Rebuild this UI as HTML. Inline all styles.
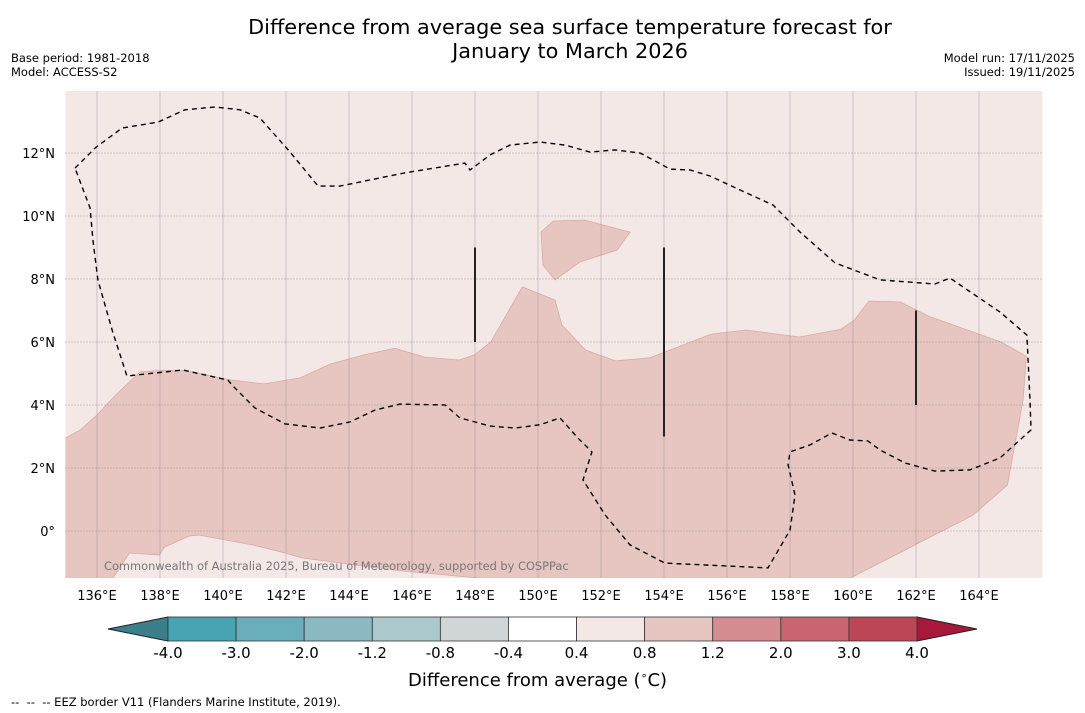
<!DOCTYPE html>
<html><head><meta charset="utf-8"><style>
body{margin:0;background:#fff;font-family:"DejaVu Sans","Liberation Sans",sans-serif;}
#wrap{position:relative;width:1085px;height:713px;overflow:hidden;}
.t{position:absolute;white-space:nowrap;color:#000;}
</style></head><body>
<div id="wrap">
<div class="t" style="left:0;width:1140px;text-align:center;top:15px;font-size:20.8px;line-height:24px;">Difference from average sea surface temperature forecast for<br>January to March 2026</div>
<div class="t" style="left:11px;top:51px;font-size:11.5px;line-height:14px;">Base period: 1981-2018<br>Model: ACCESS-S2</div>
<div class="t" style="right:10px;top:51px;font-size:11.5px;line-height:14px;text-align:right;">Model run: 17/11/2025<br>Issued: 19/11/2025</div>
<svg id="map" width="1085" height="713" style="position:absolute;left:0;top:0"></svg>
<div class="t" style="left:408px;top:669px;font-size:18px;">Difference from average (<sup style="font-size:11px">∘</sup>C)</div>
<div class="t" style="left:11px;top:695px;font-size:11.5px;">-- &nbsp;-- &nbsp;-- EEZ border V11 (Flanders Marine Institute, 2019).</div>
</div>
<script>
const lonTicks=[136,138,140,142,144,146,148,150,152,154,156,158,160,162,164];
const latTicks=[0,2,4,6,8,10,12];
const warmLon=[135,135.46,136,136.57,137.37,138,138.8,140.2,141.3,142.45,143.4,144.5,145.46,146.4,147.5,148,148.5,149.5,150.54,150.76,151.5,152.45,153.55,154.2,155.5,156.6,158.3,159.6,160.05,160.5,161.5,162.45,164.7,165.5,165.4,164.9,163.8,159.9,148.2,145.5,142.5,141.97,140.93,139.25,138.93,138.14,137.98,137.03,136.5,135];
const warmLat=[2.95,3.2,3.68,4.3,5.05,5.1,5.1,4.8,4.67,4.86,5.3,5.6,5.8,5.52,5.43,5.6,6,7.75,7.33,6.54,5.75,5.4,5.5,5.75,6.25,6.38,6.16,6.4,6.7,7.3,7.27,6.8,6,5.55,4.16,1.46,0.5,-1.5,-1.5,-1.25,-0.85,-0.7,-0.44,-0.13,-0.16,-0.51,-0.76,-0.7,-1.5,-1.5];
const patchLon=[150.1,150.48,151.49,152.92,152.51,151.33,150.54,150.16];
const patchLat=[9.49,9.84,9.87,9.49,8.92,8.54,7.97,8.44];
const eezLon=[135.3,135.94,136.79,137.94,138.79,139.75,140.54,141.17,142.13,143.02,143.71,145.78,147.68,147.84,148.48,149.11,150.06,150.86,151.65,152.44,153.24,154.19,154.83,155.46,156.41,157.46,158.32,159.43,160.86,162.6,163.08,164.67,165.52,165.62,165.65,164.67,163.71,162.6,161.65,160.86,160.47,159.9,159.33,158.63,158.0,157.94,158.16,158.0,157.3,154.03,152.92,152.13,151.43,151.71,151.27,150.7,150.06,149.27,148.48,147.52,147.05,145.62,144.83,144.03,143.08,141.97,141.02,140.29,140.16,138.73,136.95,136.48,136.03,135.87,135.78,135.3];
const eezLat=[11.52,12.16,12.79,12.98,13.37,13.46,13.37,13.11,12.03,10.95,10.95,11.37,11.68,11.46,11.94,12.25,12.35,12.25,12.03,12.1,12.0,11.49,11.46,11.27,10.83,10.35,9.49,8.51,7.97,7.84,8.03,6.95,6.22,4.16,3.21,2.32,1.94,1.9,2.16,2.57,2.86,2.89,3.11,2.73,2.51,2.1,1.14,0.03,-1.17,-1.02,-0.44,0.51,1.62,2.51,2.95,3.59,3.37,3.27,3.33,3.59,4.0,4.03,3.84,3.46,3.27,3.4,3.9,4.63,4.79,5.11,4.92,6.38,7.97,9.24,10.25,11.52];
const barLon=[148,154,162];
const barTop=[9,9,7];
const barBot=[6,3,4];
const cbLevels=["-4.0","-3.0","-2.0","-1.2","-0.8","-0.4","0.4","0.8","1.2","2.0","3.0","4.0"];
const cbColors=["#48a3b3","#6aaebb","#8ab9c3","#abc9cd","#d0d6d8","#ffffff","#f4e8e7","#e7c5c1","#d58d93","#c96570","#bd4656"];

const X0=65.5,Y0=91,W=977,H=487;
const px=lon=>X0+(lon-135)*31.5;
const py=lat=>531-lat*31.5;
const svg=document.getElementById('map');
const NS='http://www.w3.org/2000/svg';
function mk(tag,at){const e=document.createElementNS(NS,tag);for(const k in at)e.setAttribute(k,at[k]);svg.appendChild(e);return e;}
const clip=mk('clipPath',{id:'cp'});
const cr=document.createElementNS(NS,'rect');cr.setAttribute('x',X0);cr.setAttribute('y',Y0);cr.setAttribute('width',W);cr.setAttribute('height',H);clip.appendChild(cr);
let e=mk('rect',{x:X0,y:Y0,width:W,height:H,fill:'#f4e8e7'});


function pts(lo,la){return lo.map((v,i)=>px(v).toFixed(1)+','+py(la[i]).toFixed(1)).join(' ');}
e=mk('polygon',{points:pts(warmLon,warmLat),fill:'#e7c6c1',stroke:'#d9aaa6','stroke-width':0.8,'clip-path':'url(#cp)'});


e=mk('polygon',{points:pts(patchLon,patchLat),fill:'#e7c6c1',stroke:'#d9aaa6','stroke-width':0.8});


lonTicks.forEach(l=>{
 e=mk('line',{x1:px(l),x2:px(l),y1:Y0,y2:Y0+H,stroke:'#a09898','stroke-width':0.6,opacity:0.8});
 
 
 e=mk('text',{x:px(l),y:600,'font-size':13,'text-anchor':'middle','font-family':'DejaVu Sans, Liberation Sans, sans-serif'});
 e.textContent=l+'°E';
 
 
});
latTicks.forEach(l=>{
 e=mk('line',{x1:X0,x2:X0+W,y1:py(l),y2:py(l),stroke:'#888','stroke-width':0.8,'stroke-dasharray':'1,2'});
 
 
 e=mk('text',{x:55,y:py(l)+5,'font-size':13,'text-anchor':'end','font-family':'DejaVu Sans, Liberation Sans, sans-serif'});
 e.textContent=l===0?'0°':l+'°N';
 
 
});
e=mk('polyline',{points:pts(eezLon,eezLat),fill:'none',stroke:'#000','stroke-width':1.4,'stroke-dasharray':'5,4'});


barLon.forEach((l,i)=>{
 e=mk('line',{x1:px(l),x2:px(l),y1:py(barTop[i]),y2:py(barBot[i]),stroke:'#222','stroke-width':2});
 
 
});
e=mk('text',{x:104,y:570,'font-size':11.4,fill:'#777','font-family':'DejaVu Sans, Liberation Sans, sans-serif'});
e.textContent='Commonwealth of Australia 2025, Bureau of Meteorology, supported by COSPPac';


const cbX=168,cbW=749,cbY=617,cbH=24,n=cbColors.length,bw=cbW/n;
e=mk('polygon',{points:`108,${cbY+cbH/2} ${cbX},${cbY} ${cbX},${cbY+cbH}`,fill:'#3a7f89',stroke:'#222','stroke-width':1});


e=mk('polygon',{points:`977,${cbY+cbH/2} ${cbX+cbW},${cbY} ${cbX+cbW},${cbY+cbH}`,fill:'#a8183a',stroke:'#222','stroke-width':1});


cbColors.forEach((c,i)=>{
 e=mk('rect',{x:cbX+i*bw,y:cbY,width:bw,height:cbH,fill:c,stroke:'#333','stroke-width':0.8});
 
 
});
cbLevels.forEach((t,i)=>{
 e=mk('text',{x:cbX+i*bw,y:658,'font-size':15,'text-anchor':'middle','font-family':'DejaVu Sans, Liberation Sans, sans-serif'});
 e.textContent=t;
 
 
});
</script>
</body></html>
